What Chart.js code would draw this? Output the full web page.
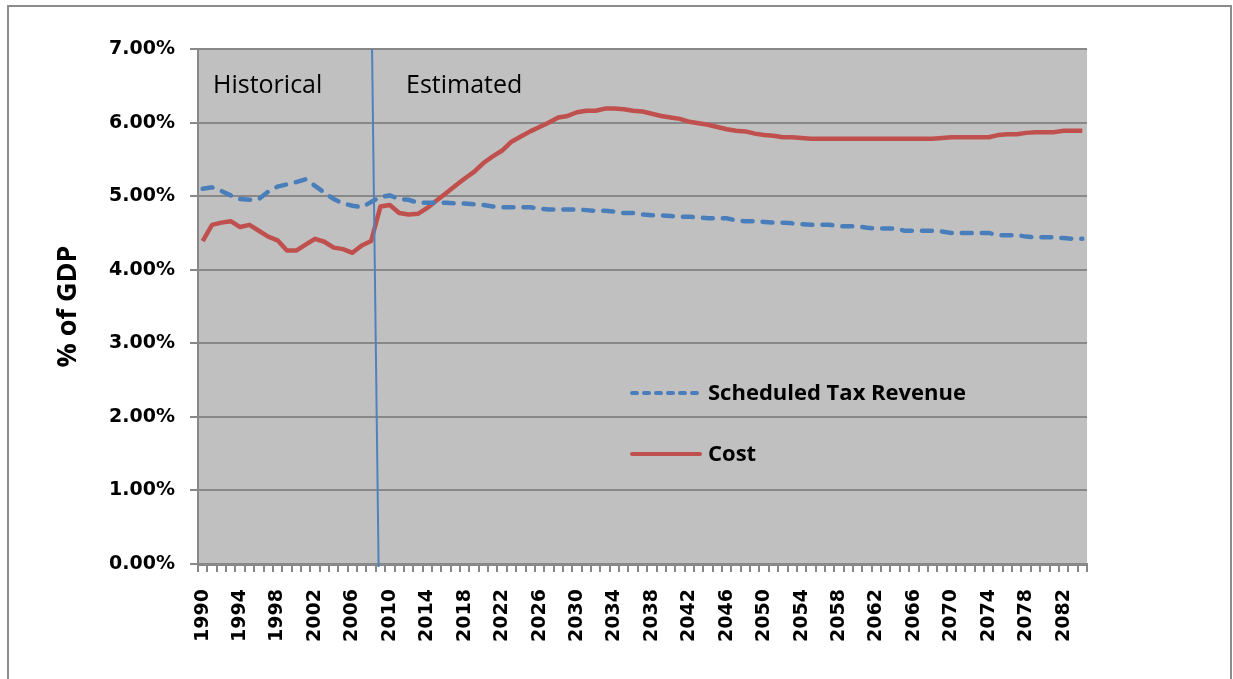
<!DOCTYPE html>
<html>
<head>
<meta charset="utf-8">
<script src="https://cdn.jsdelivr.net/npm/chart.js@4"></script>
<style>
  body { margin: 0; background: #fff; }
  #frame { position: absolute; left: 7px; top: 5px; width: 1225px; height: 690px; border: 2px solid #8c8c8c; box-sizing: border-box; }
  #chart { position: absolute; left: 0; top: 0; }
</style>
</head>
<body>
<div id="frame"></div>
<canvas id="chart" width="1233" height="679"></canvas>
<script>
// years 1990..2084
var years = [];
for (var y = 1990; y <= 2084; y++) years.push(String(y));

var taxRevenue = [
  5.10, 5.12, 5.07, 5.01, 4.96, 4.95, 4.96, 5.06, 5.13, 5.16,
  5.19, 5.23, 5.14, 5.05, 4.96, 4.90, 4.87, 4.85, 4.92, 4.99,
  5.01, 4.96, 4.95, 4.91, 4.91, 4.91, 4.91, 4.90, 4.90, 4.89,
  4.88, 4.86, 4.85, 4.85, 4.85, 4.85, 4.83, 4.82, 4.82, 4.82,
  4.82, 4.81, 4.80, 4.80, 4.79, 4.77, 4.77, 4.75, 4.74, 4.74,
  4.73, 4.72, 4.72, 4.71, 4.70, 4.70, 4.70, 4.67, 4.66, 4.66,
  4.65, 4.64, 4.64, 4.63, 4.62, 4.61, 4.61, 4.61, 4.59, 4.59,
  4.59, 4.57, 4.56, 4.56, 4.56, 4.53, 4.53, 4.53, 4.53, 4.52,
  4.50, 4.50, 4.50, 4.50, 4.50, 4.47, 4.47, 4.47, 4.45, 4.44,
  4.44, 4.44, 4.43, 4.42, 4.42
];

var cost = [
  4.39, 4.61, 4.64, 4.66, 4.58, 4.61, 4.53, 4.45, 4.40, 4.26,
  4.26, 4.34, 4.42, 4.38, 4.30, 4.28, 4.23, 4.33, 4.39, 4.86,
  4.88, 4.77, 4.75, 4.76, 4.84, 4.94, 5.04, 5.14, 5.24, 5.33,
  5.45, 5.54, 5.62, 5.74, 5.81, 5.88, 5.94, 6.00, 6.07, 6.09,
  6.14, 6.16, 6.16, 6.19, 6.19, 6.18, 6.16, 6.15, 6.12, 6.09,
  6.07, 6.05, 6.01, 5.99, 5.97, 5.94, 5.91, 5.89, 5.88, 5.85,
  5.83, 5.82, 5.80, 5.80, 5.79, 5.78, 5.78, 5.78, 5.78, 5.78,
  5.78, 5.78, 5.78, 5.78, 5.78, 5.78, 5.78, 5.78, 5.78, 5.79,
  5.80, 5.80, 5.80, 5.80, 5.80, 5.83, 5.84, 5.84, 5.86, 5.87,
  5.87, 5.87, 5.89, 5.89, 5.89
];

// slanted divider between historical and estimated (category index, top / bottom)
var dividerTop = 18.1;
var dividerBottom = 18.8;

var seriesNames = ['Scheduled Tax Revenue', 'Cost'];
var blue = '#4a7ebb';
var red = '#c0504d';
var tickFont = { family: 'DejaVu Sans', weight: 'bold', size: 19 };

var decor = {
  id: 'decor',
  beforeDraw: function(chart) {
    var a = chart.chartArea, ctx = chart.ctx;
    ctx.save();
    ctx.fillStyle = '#c0c0c0';
    ctx.fillRect(a.left, a.top, a.right - a.left, a.bottom - a.top);
    ctx.restore();
  },
  afterDatasetsDraw: function(chart) {
    var a = chart.chartArea, ctx = chart.ctx;
    var xs = chart.scales.x;
    ctx.save();

    // divider line
    ctx.strokeStyle = '#4f81bd';
    ctx.lineWidth = 2;
    ctx.beginPath();
    ctx.moveTo(xs.getPixelForValue(dividerTop), a.top);
    ctx.lineTo(xs.getPixelForValue(dividerBottom), a.bottom + 3);
    ctx.stroke();

    // region labels
    ctx.fillStyle = '#000';
    ctx.font = '25px "Open Sans"';
    ctx.textBaseline = 'alphabetic';
    ctx.textAlign = 'left';
    ctx.fillText('Historical', a.left + 15, a.top + 44);
    ctx.fillText('Estimated', a.left + 208, a.top + 44);

    // legend inside plot
    var lx = a.left + 432, ly = [a.top + 344, a.top + 405];
    var colors = [blue, red];
    for (var i = 0; i < 2; i++) {
      ctx.strokeStyle = colors[i];
      ctx.lineWidth = 4;
      ctx.lineCap = 'round';
      ctx.setLineDash(i === 0 ? [5, 7] : []);
      ctx.beginPath();
      ctx.moveTo(lx + 2, ly[i]);
      ctx.lineTo(lx + 70, ly[i]);
      ctx.stroke();
      ctx.setLineDash([]);
      ctx.fillStyle = '#000';
      ctx.font = 'bold 22px "Open Sans"';
      ctx.textBaseline = 'middle';
      ctx.fillText(seriesNames[i], lx + 78, ly[i] + 1);
    }

    // y axis title
    ctx.translate(68, (a.top + a.bottom) / 2);
    ctx.rotate(-Math.PI / 2);
    ctx.textAlign = 'center';
    ctx.textBaseline = 'middle';
    ctx.font = 'bold 27px "Open Sans"';
    ctx.fillText('% of GDP', 0, 0);
    ctx.restore();
  }
};

new Chart(document.getElementById('chart'), {
  type: 'line',
  data: {
    labels: years,
    datasets: [
      {
        label: seriesNames[0],
        data: taxRevenue,
        borderColor: blue,
        borderWidth: 4.5,
        borderDash: [10, 10],
        borderCapStyle: 'round',
        pointRadius: 0,
        tension: 0,
        fill: false
      },
      {
        label: seriesNames[1],
        data: cost,
        borderColor: red,
        borderWidth: 4.5,
        borderJoinStyle: 'round',
        pointRadius: 0,
        tension: 0,
        fill: false
      }
    ]
  },
  options: {
    responsive: false,
    animation: false,
    layout: { padding: { top: 49, right: 146, left: 0, bottom: 0 } },
    plugins: {
      legend: { display: false },
      tooltip: { enabled: false }
    },
    scales: {
      x: {
        offset: true,
        grid: { offset: true, drawOnChartArea: false, drawTicks: true, tickLength: 8, color: '#888', lineWidth: 2 },
        border: { color: '#888', width: 3 },
        ticks: {
          autoSkip: false,
          maxRotation: 90,
          minRotation: 90,
          padding: 17,
          color: '#000',
          font: tickFont,
          callback: function(v, i) { return i % 4 === 0 ? years[i] : ''; }
        },
        afterFit: function(s) { s.height = 115; }
      },
      y: {
        min: 0,
        max: 7,
        grid: { color: '#888', lineWidth: 2, tickLength: 8 },
        border: { color: '#888', width: 2 },
        ticks: {
          stepSize: 1,
          padding: 15,
          color: '#000',
          font: tickFont,
          callback: function(v) { return v.toFixed(2) + '%'; }
        },
        afterFit: function(s) { s.width = 198; }
      }
    }
  },
  plugins: [decor]
});
</script>
</body>
</html>
